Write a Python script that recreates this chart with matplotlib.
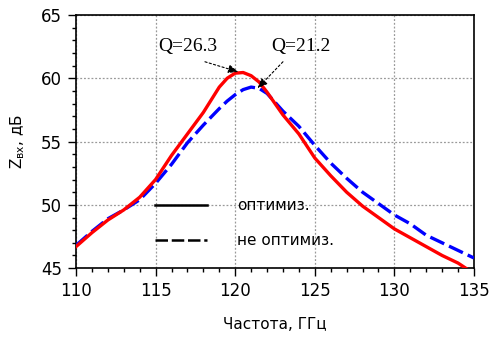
import numpy as np
import matplotlib.pyplot as plt
from matplotlib.lines import Line2D
from matplotlib.ticker import MultipleLocator

# Input impedance vs frequency, optimized and non-optimized structure
freq_opt = [110, 111, 112, 113, 114, 115, 116, 117, 118, 119, 119.5, 120, 120.5,
            121, 121.5, 122, 122.5, 123, 124, 125, 126, 127, 128, 129, 130,
            131, 132, 133, 134, 134.6]
z_opt = [46.7, 47.8, 48.8, 49.6, 50.6, 52.0, 53.9, 55.6, 57.3, 59.3, 60.0, 60.4, 60.45,
         60.2, 59.7, 58.9, 58.0, 57.1, 55.6, 53.7, 52.3, 51.0, 49.9, 49.0, 48.1,
         47.4, 46.7, 46.0, 45.4, 44.9]

freq_base = [110, 111, 112, 113, 114, 115, 116, 117, 118, 119, 119.5, 120, 120.5,
             121, 121.5, 122, 122.5, 123, 124, 125, 126, 127, 128, 129, 130,
             131, 132, 133, 134, 135]
z_base = [46.8, 47.9, 48.9, 49.6, 50.4, 51.7, 53.2, 54.9, 56.3, 57.6, 58.2, 58.7, 59.1,
          59.3, 59.2, 58.8, 58.1, 57.4, 56.2, 54.7, 53.3, 52.1, 51.0, 50.1, 49.2,
          48.5, 47.6, 47.0, 46.4, 45.8]

legend_labels = ['оптимиз.', 'не оптимиз.']
q_labels = ['Q=26.3', 'Q=21.2']
q_text_pos = [(117.0, 62.5), (124.1, 62.5)]
q_arrow_start = [(118.1, 61.3), (123.0, 61.3)]
q_arrow_end = [(120.2, 60.5), (121.4, 59.2)]

fig = plt.figure(figsize=(5, 3.39), dpi=100)
ax = fig.add_axes([0.152, 0.209, 0.796, 0.747])

ax.plot(freq_base, z_base, color='#0000ff', lw=2.4, dashes=(4.6, 1.6), zorder=3)
ax.plot(freq_opt, z_opt, color='#ff0000', lw=2.4, zorder=4)

ax.set_xlim(110, 135)
ax.set_ylim(45, 65)
ax.xaxis.set_major_locator(MultipleLocator(5))
ax.xaxis.set_minor_locator(MultipleLocator(1))
ax.yaxis.set_major_locator(MultipleLocator(5))
ax.yaxis.set_minor_locator(MultipleLocator(1))
ax.tick_params(which='major', direction='out', length=6, width=1, labelsize=12, pad=4)
ax.tick_params(which='minor', direction='out', length=3, width=1)
ax.grid(True, which='major', color='#999999', linestyle=(0, (1.5, 1.5)), lw=0.9)

ax.spines['top'].set_linestyle((0, (1, 1)))
for s in ax.spines.values():
    s.set_linewidth(1.2)

ax.set_xlabel('Частота, ГГц', fontsize=11, labelpad=12)
ax.set_ylabel(r'Z$_{\mathregular{вх}}$, дБ', fontsize=11, labelpad=10)

for lab, tp, a0, a1 in zip(q_labels, q_text_pos, q_arrow_start, q_arrow_end):
    ax.text(tp[0], tp[1], lab, fontsize=14, family='Liberation Serif',
            ha='center', va='center')
    ax.annotate('', xy=a1, xytext=a0,
                arrowprops=dict(arrowstyle='-|>,head_length=0.6,head_width=0.25',
                                color='black', lw=0.8, linestyle=(0, (2, 2)),
                                shrinkA=0, shrinkB=0), zorder=5)

handles = [Line2D([], [], color='black', lw=1.8),
           Line2D([], [], color='black', lw=1.8, dashes=(5, 1.5))]
ax.legend(handles, legend_labels, loc='center left', bbox_to_anchor=(0.198, 0.178),
          frameon=False, fontsize=11, handlelength=3.4, handletextpad=2.0,
          labelspacing=1.3, borderpad=0, borderaxespad=0)

fig.savefig('out.png', dpi=100)
